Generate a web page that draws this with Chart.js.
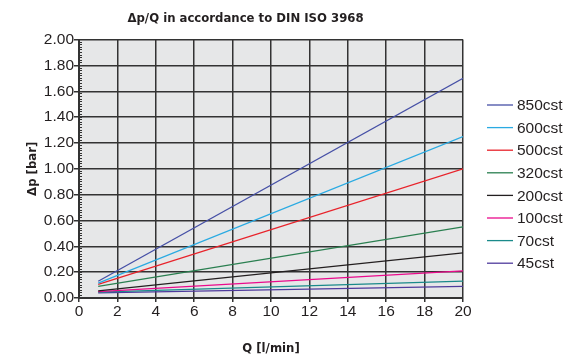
<!DOCTYPE html>
<html>
<head>
<meta charset="utf-8">
<script src="https://cdn.jsdelivr.net/npm/chart.js@4.4.1/dist/chart.umd.min.js"></script>
<style>
  html, body { margin: 0; padding: 0; background: #fff; }
  #wrap { width: 566px; height: 358px; }
</style>
</head>
<body>
<div id="wrap"><canvas id="grafica" width="566" height="358"></canvas></div>
<script>
// caudal Q [l/min]: las curvas son rectas de Q=1 a Q=20
const caudal = [1, 20];
const etiquetas = ['850cst', '600cst', '500cst', '320cst', '200cst', '100cst', '70cst', '45cst'];
const dp850 = [0.13, 1.70];
const dp600 = [0.115, 1.25];
const dp500 = [0.105, 1.00];
const dp320 = [0.09, 0.55];
const dp200 = [0.055, 0.35];
const dp100 = [0.05, 0.21];
const dp70 = [0.045, 0.13];
const dp45 = [0.04, 0.09];
const ticksX = [0, 2, 4, 6, 8, 10, 12, 14, 16, 18, 20];
const ticksY = [0, 0.2, 0.4, 0.6, 0.8, 1.0, 1.2, 1.4, 1.6, 1.8, 2.0];

const series = [dp850, dp600, dp500, dp320, dp200, dp100, dp70, dp45];
const colores = ['#4650a6', '#2aaae2', '#e8232b', '#2a7f50', '#231f20', '#ea0a8c', '#1a8a8a', '#4e3a9c'];

const fuenteNum = '"Liberation Sans", Arial, sans-serif';
const fuenteTit = '"Liberation Sans Narrow", "Arial Narrow", "DejaVu Sans Condensed", sans-serif';

const fondoArea = {
  id: 'fondoArea',
  beforeDraw(chart) {
    const { ctx, chartArea: a } = chart;
    ctx.save();
    ctx.fillStyle = '#e6e7e8';
    ctx.fillRect(a.left, a.top, a.right - a.left, a.bottom - a.top);
    ctx.restore();
  }
};

// leyenda dibujada a mano, a la derecha
const leyenda = {
  id: 'leyenda',
  afterDraw(chart) {
    const { ctx } = chart;
    ctx.save();
    ctx.font = '15.5px ' + fuenteNum;
    ctx.textBaseline = 'middle';
    chart.data.datasets.forEach((ds, i) => {
      const y = 105 + i * 22.6;
      ctx.strokeStyle = ds.borderColor;
      ctx.lineWidth = 1.3;
      ctx.beginPath();
      ctx.moveTo(487, y);
      ctx.lineTo(513, y);
      ctx.stroke();
      ctx.fillStyle = '#231f20';
      ctx.fillText(ds.label, 517, y + 1);
    });
    ctx.restore();
  }
};

new Chart(document.getElementById('grafica'), {
  type: 'line',
  data: {
    datasets: series.map((s, i) => ({
      label: etiquetas[i],
      data: caudal.map((q, j) => ({ x: q, y: s[j] })),
      borderColor: colores[i],
      borderWidth: 1.3,
      pointRadius: 0,
      tension: 0,
    })),
  },
  options: {
    responsive: false,
    animation: false,
    layout: { padding: { left: 28, right: 103, top: 0, bottom: 2 } },
    plugins: {
      legend: { display: false },
      tooltip: { enabled: false },
      title: {
        display: true,
        text: '\u0394p/Q in accordance to DIN ISO 3968',
        color: '#231f20',
        font: { family: fuenteTit, size: 13, weight: 'bold' },
        padding: { top: 11, bottom: 13 },
      },
    },
    scales: {
      x: {
        type: 'linear',
        min: 0,
        max: 20,
        afterBuildTicks: s => { s.ticks = ticksX.map(v => ({ value: v })); },
        afterFit: s => { s.height = 58; },
        grid: { color: '#333', lineWidth: 1.5, tickLength: 4, tickColor: '#333' },
        border: { color: '#333', width: 2 },
        ticks: { padding: 0, color: '#231f20', font: { family: fuenteNum, size: 15.5 }, maxRotation: 0 },
        title: {
          display: true,
          text: 'Q [l/min]',
          color: '#231f20',
          font: { family: fuenteTit, size: 13, weight: 'bold' },
          padding: { top: 0, bottom: 0 },
        },
      },
      y: {
        weight: 1,
        min: 0,
        max: 2,
        afterBuildTicks: s => { s.ticks = ticksY.map(v => ({ value: v })); },
        afterFit: s => { s.width = 51; },
        grid: { color: '#333', lineWidth: 1.5, tickLength: 5, tickColor: '#333' },
        border: { color: '#333', width: 2 },
        ticks: {
          padding: 0,
          color: '#231f20',
          font: { family: fuenteNum, size: 15.5 },
          callback: v => v.toFixed(2),
        },
        title: {
          display: true,
          text: '\u0394p [bar]',
          color: '#231f20',
          font: { family: fuenteTit, size: 13, weight: 'bold' },
          padding: { top: -3, bottom: 0 },
        },
      },
      yMenor: {
        weight: 0,
        position: 'left',
        min: 0,
        max: 2,
        ticks: { display: false, stepSize: 0.02 },
        afterFit: s => { s.width = 0; },
        grid: { drawOnChartArea: false, tickLength: -3, color: '#333', lineWidth: 1 },
        border: { display: false },
      },
    },
  },
  plugins: [fondoArea, leyenda],
});
</script>
</body>
</html>
